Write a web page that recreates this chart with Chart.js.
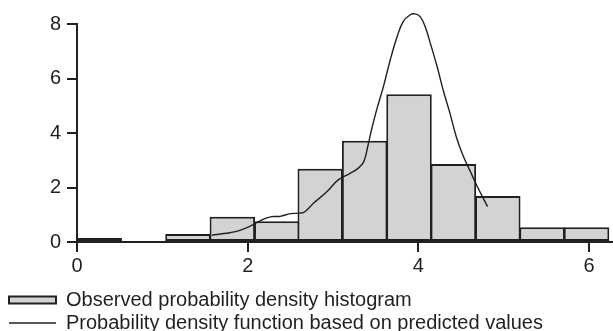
<!DOCTYPE html>
<html>
<head>
<meta charset="utf-8">
<script src="https://cdn.jsdelivr.net/npm/chart.js@4.4.1/dist/chart.umd.min.js"></script>
<style>
  html, body { margin: 0; padding: 0; background: #ffffff; }
  #wrap { position: relative; width: 613px; height: 331px; }
</style>
</head>
<body>
<div id="wrap"><canvas id="c"></canvas></div>
<script>
// Histogram bins (bin centres) and observed densities
const binCenters = [0.26, 0.78, 1.30, 1.82, 2.34, 2.85, 3.37, 3.89, 4.41, 4.93, 5.45, 5.97];
const observedDensity = [0.15, 0, 0.29, 0.93, 0.76, 2.69, 3.72, 5.42, 2.86, 1.69, 0.54, 0.54];

// Probability density function based on predicted values
const pdfX = [1.58, 1.75, 1.87, 1.97, 2.07, 2.18, 2.28, 2.38, 2.50, 2.61, 2.67, 2.77, 2.93, 3.06, 3.20, 3.30, 3.36, 3.41, 3.45, 3.51, 3.59, 3.67, 3.75, 3.82, 3.90, 3.96, 4.02, 4.08, 4.14, 4.22, 4.29, 4.37, 4.45, 4.53, 4.61, 4.68, 4.81];
const pdfY = [0.25, 0.32, 0.39, 0.50, 0.65, 0.83, 0.93, 0.94, 1.04, 1.06, 1.11, 1.42, 1.85, 2.28, 2.52, 2.72, 2.95, 3.55, 4.11, 4.84, 5.70, 6.68, 7.53, 8.08, 8.33, 8.37, 8.27, 7.90, 7.29, 6.43, 5.58, 4.72, 3.80, 3.12, 2.58, 2.10, 1.30];

const xTicks = [0, 2, 4, 6];
const yTicks = [0, 2, 4, 6, 8];

const labels = ['Observed probability density histogram', 'Probability density function based on predicted values'];

const ink = '#231f20';
const barFill = '#d1d3d4';
const fontFamily = '"Liberation Sans", Arial, sans-serif';

const barData = binCenters.map((x, i) => ({ x: x, y: observedDensity[i] }));
const pdfData = pdfX.map((x, i) => ({ x: x, y: pdfY[i] }));

new Chart(document.getElementById('c'), {
  type: 'bar',
  data: {
    datasets: [
      {
        type: 'bar',
        label: labels[0],
        data: barData,
        backgroundColor: barFill,
        borderColor: ink,
        borderWidth: 2,
        borderSkipped: false,
        barPercentage: 1.045,
        categoryPercentage: 1,
        order: 1
      },
      {
        type: 'line',
        label: labels[1],
        data: pdfData,
        borderColor: ink,
        borderWidth: 1.4,
        pointRadius: 0,
        fill: false,
        tension: 0.4,
        clip: false,
        order: 0
      }
    ]
  },
  options: {
    responsive: true,
    maintainAspectRatio: false,
    devicePixelRatio: 1,
    animation: false,
    layout: { padding: { top: 24, left: 6, right: 0, bottom: 0 } },
    plugins: {
      tooltip: { enabled: false },
      legend: {
        display: true,
        position: 'bottom',
        align: 'start',
        maxHeight: 44,
        labels: {
          usePointStyle: true,
          pointStyleWidth: 47,
          boxHeight: 7,
          padding: 3,
          color: ink,
          font: { family: fontFamily, size: 20 },
          generateLabels: (chart) => chart.data.datasets.map((ds, i) => ({
            text: ds.label,
            datasetIndex: i,
            hidden: false,
            fontColor: ink,
            fillStyle: ds.type === 'bar' ? barFill : 'rgba(0,0,0,0)',
            strokeStyle: ink,
            lineWidth: ds.type === 'bar' ? 2 : 1.4,
            pointStyle: ds.type === 'bar' ? 'rect' : 'line'
          }))
        }
      }
    },
    scales: {
      x: {
        type: 'linear',
        min: 0,
        max: 6.28,
        offset: false,
        afterFit: (s) => { s.height = 45; },
        afterBuildTicks: (s) => { s.ticks = xTicks.map(v => ({ value: v })); },
        border: { display: true, color: ink, width: 2 },
        grid: { display: true, drawOnChartArea: false, drawTicks: true, tickLength: 10, color: ink, lineWidth: 2, offset: false },
        ticks: { color: ink, padding: 2, font: { family: fontFamily, size: 20 }, maxRotation: 0 }
      },
      y: {
        type: 'linear',
        min: 0,
        max: 8,
        afterFit: (s) => { s.width = 71; },
        afterBuildTicks: (s) => { s.ticks = yTicks.map(v => ({ value: v })); },
        border: { display: true, color: ink, width: 2 },
        grid: { display: true, drawOnChartArea: false, drawTicks: true, tickLength: 10, color: ink, lineWidth: 2 },
        ticks: { color: ink, padding: 6, font: { family: fontFamily, size: 20 } }
      }
    }
  }
});
</script>
</body>
</html>
